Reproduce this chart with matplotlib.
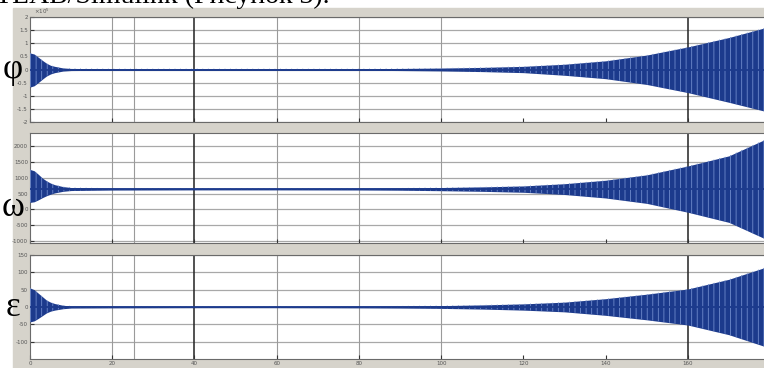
import numpy as np
import matplotlib.pyplot as plt
from matplotlib.patches import Rectangle

# envelope (time, upper / lower amplitude)
t = [0, 1, 2, 3, 4, 5, 6, 8, 10, 20, 40, 60, 80, 90, 100, 110, 120, 130, 140, 150, 160, 170, 179]

phi_mid = 0.0
phi_up = [0.63, 0.59, 0.47, 0.35, 0.24, 0.16, 0.12, 0.06, 0.04, 0.03, 0.03, 0.03, 0.03, 0.04,
          0.055, 0.08, 0.12, 0.2, 0.33, 0.55, 0.86, 1.22, 1.6]
phi_lo = [0.67, 0.62, 0.5, 0.37, 0.25, 0.17, 0.12, 0.06, 0.04, 0.03, 0.03, 0.03, 0.03, 0.04,
          0.055, 0.08, 0.12, 0.22, 0.35, 0.57, 0.88, 1.25, 1.6]

om_mid = 640
om_up = [620, 580, 470, 350, 260, 190, 140, 80, 50, 30, 25, 25, 28, 35,
         50, 70, 100, 170, 280, 450, 730, 1050, 1580]
om_lo = [420, 400, 340, 270, 210, 160, 120, 70, 45, 30, 25, 25, 28, 35,
         50, 70, 100, 170, 280, 450, 730, 1050, 1580]

eps_mid = 0.0
eps_up = [55, 50, 40, 30, 20, 14, 10, 5, 3, 2.5, 2, 2, 2.5, 3,
          4, 6, 9, 14, 24, 37, 52, 80, 115]
eps_lo = [43, 40, 33, 25, 17, 12, 9, 5, 3, 2.5, 2, 2, 2.5, 3,
          4, 6, 9, 14, 24, 37, 52, 80, 115]

x_ticks = [0, 20, 40, 60, 80, 100, 120, 140, 160]
x_grid = [20, 25.4, 40, 60, 80, 100, 160]
x_dark = [40, 160]

phi_ticks = [-2, -1.5, -1, -0.5, 0, 0.5, 1, 1.5, 2]
om_ticks = [-1000, -500, 0, 500, 1000, 1500, 2000]
eps_ticks = [-100, -50, 0, 50, 100, 150]

W, H = 764, 368
blue = '#1c3a8c'
gray_bg = '#d6d3cb'
plt.rcParams['hatch.linewidth'] = 0.6

fig = plt.figure(figsize=(W / 100, H / 100), dpi=100, facecolor='white')
fig.patches.append(Rectangle((13 / W, 0), 1, 1 - 8 / H, transform=fig.transFigure,
                             color=gray_bg, zorder=-10))
fig.text(330 / W, 1 - 3 / H, 'моделирования в MATLAB/Simulink (Рисунок 3).',
         ha='right', va='baseline', fontsize=20, family='Liberation Serif', zorder=-5)


def rect(l, top, r, b):
    return [l / W, 1 - b / H, (r - l) / W, (b - top) / H]


panels = [
    (rect(30, 17, 766, 122), phi_mid, phi_up, phi_lo, (-2, 2), phi_ticks, 'φ', 69),
    (rect(30, 133, 766, 243), om_mid, om_up, om_lo, (-1060, 2410), om_ticks, 'ω', 207),
    (rect(30, 255, 766, 359), eps_mid, eps_up, eps_lo, (-150, 150), eps_ticks, 'ε', 307),
]

axes = []
for pos, mid, up, lo, ylim, yt, name, name_y in panels:
    ax = fig.add_axes(pos, zorder=2)
    ax.set_facecolor('white')
    ax.set_xlim(0, 179)
    ax.set_ylim(*ylim)
    for g in yt:
        ax.axhline(g, color='#a8a8a8', lw=0.9, zorder=1)
    for g in x_grid:
        ax.axvline(g, color='#222222' if g in x_dark else '#9a9a9a',
                   lw=1.1 if g in x_dark else 0.8, zorder=1)
    up_y = [mid + u for u in up]
    lo_y = [mid - l for l in lo]
    ax.fill_between(t, lo_y, up_y, color=blue, lw=0, zorder=3)
    ax.fill_between(t, lo_y, up_y, facecolor='none', edgecolor='#6f8bcc', hatch='|||',
                    lw=0, zorder=3.5)
    ax.plot([0, 179], [mid, mid], color=blue, lw=1.3, zorder=4)
    ax.set_yticks(yt)
    ax.set_yticklabels([f'{v:g}' for v in yt], fontsize=4, color='#555555')
    ax.set_xticks(x_ticks)
    ax.tick_params(direction='in', length=3, width=0.8, pad=1.5, colors='#333333',
                   labelcolor='#555555')
    for s in ax.spines.values():
        s.set_color('#6a6a6a')
        s.set_linewidth(0.8)
    fig.text(13 / W, 1 - name_y / H, name, ha='center', va='center',
             fontsize=25, family='Liberation Serif', color='black', zorder=5)
    axes.append(ax)

for ax in axes[:2]:
    ax.set_xticklabels([])
axes[2].set_xticklabels([str(v) for v in x_ticks], fontsize=4)
axes[0].text(0.005, 1.01, r'$\times10^{5}$', transform=axes[0].transAxes, fontsize=4,
             color='#555555', va='bottom')

fig.savefig('out.png', dpi=100, facecolor='white')
